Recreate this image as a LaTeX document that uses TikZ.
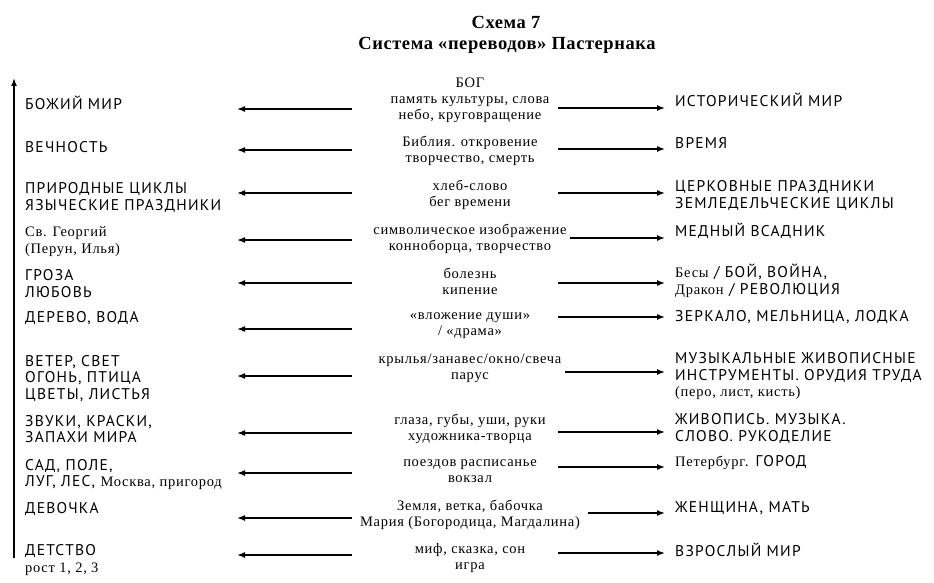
\documentclass[tikz,border=0pt]{standalone}
\usepackage{fontspec}
\setmainfont{Liberation Serif}
\newfontfamily\capsfont[LetterSpace=8]{PT Sans}
\newfontfamily\midfont[LetterSpace=5]{Liberation Serif}
\usetikzlibrary{arrows.meta}
\usetikzlibrary{positioning}

\tikzset{
    arr/.style={line width=1.5pt, -{Latex[length=8pt,width=6pt]}},
    capslabel/.style={anchor=west, align=left, inner sep=0pt, font=\capsfont\fontsize{15.5}{16.5}\selectfont},
    midlabel/.style={align=center, inner sep=0pt, font=\midfont\fontsize{14.5}{16}\selectfont},
    titlelabel/.style={inner sep=0pt, font=\bfseries\addfontfeature{LetterSpace=3}\fontsize{18.5}{20}\selectfont}
}
\newcommand{\rmpart}[1]{{\midfont\fontsize{14.5}{16.5}\selectfont #1}}

\begin{document}
\begin{tikzpicture}[x=1pt, y=-1pt]
    \useasboundingbox (0,0) rectangle (934,583);

    \node(T1)[titlelabel] at (506,22){Схема 7};
    \node(T2)[titlelabel] at (507,45){Система «переводов» Пастернака};

    \coordinate(up0) at (14,558);
    \coordinate(up1) at (14,78);
    \draw[arr] (up0) -- (up1);

    \node(L1)[capslabel] at (25,103){БОЖИЙ МИР};
    \node(L2)[capslabel] at (25,147){ВЕЧНОСТЬ};
    \node(L3)[capslabel] at (25,197.5){ПРИРОДНЫЕ ЦИКЛЫ\\ЯЗЫЧЕСКИЕ ПРАЗДНИКИ};
    \node(L4)[capslabel] at (25,241.5){\rmpart{Св. Георгий}\\\rmpart{(Перун, Илья)}};
    \node(L5)[capslabel] at (25,283.5){ГРОЗА\\ЛЮБОВЬ};
    \node(L6)[capslabel] at (25,318){ДЕРЕВО, ВОДА};
    \node(L7)[capslabel] at (25,378.5){ВЕТЕР, СВЕТ\\ОГОНЬ, ПТИЦА\\ЦВЕТЫ, ЛИСТЬЯ};
    \node(L8)[capslabel] at (25,429){ЗВУКИ, КРАСКИ,\\ЗАПАХИ МИРА};
    \node(L9)[capslabel] at (25,474.5){САД, ПОЛЕ,\\ЛУГ, ЛЕС, \rmpart{Москва, пригород}};
    \node(L10)[capslabel] at (25,509){ДЕВОЧКА};
    \node(L11)[capslabel] at (25,560){ДЕТСТВО\\\rmpart{рост 1, 2, 3}};

    \node(M1)[midlabel] at (470,100){БОГ\\память культуры, слова\\небо, круговращение};
    \node(M2)[midlabel] at (470,151){Библия. откровение\\творчество, смерть};
    \node(M3)[midlabel] at (470,195){хлеб-слово\\бег времени};
    \node(M4)[midlabel] at (470,239){символическое изображение\\конноборца, творчество};
    \node(M5)[midlabel] at (470,281){болезнь\\кипение};
    \node(M6)[midlabel] at (470,326){«вложение души»\\/ «драма»};
    \node(M7)[midlabel] at (470,368.5){крылья/занавес/окно/свеча\\парус};
    \node(M8)[midlabel] at (470,428.5){глаза, губы, уши, руки\\художника-творца};
    \node(M9)[midlabel] at (470,471.5){поездов расписанье\\вокзал};
    \node(M10)[midlabel] at (470,514.5){Земля, ветка, бабочка\\Мария (Богородица, Магдалина)};
    \node(M11)[midlabel] at (470,558.5){миф, сказка, сон\\игра};

    \node(R1)[capslabel] at (675,100){ИСТОРИЧЕСКИЙ МИР};
    \node(R2)[capslabel] at (675,143){ВРЕМЯ};
    \node(R3)[capslabel] at (675,195.5){ЦЕРКОВНЫЕ ПРАЗДНИКИ\\ЗЕМЛЕДЕЛЬЧЕСКИЕ ЦИКЛЫ};
    \node(R4)[capslabel] at (675,231){МЕДНЫЙ ВСАДНИК};
    \node(R5)[capslabel] at (675,281){\rmpart{Бесы} / БОЙ, ВОЙНА,\\\rmpart{Дракон} / РЕВОЛЮЦИЯ};
    \node(R6)[capslabel] at (675,317){ЗЕРКАЛО, МЕЛЬНИЦА, ЛОДКА};
    \node(R7)[capslabel] at (675,376.5){МУЗЫКАЛЬНЫЕ ЖИВОПИСНЫЕ\\ИНСТРУМЕНТЫ. ОРУДИЯ ТРУДА\\\rmpart{(перо, лист, кисть)}};
    \node(R8)[capslabel] at (675,428.5){ЖИВОПИСЬ. МУЗЫКА.\\СЛОВО. РУКОДЕЛИЕ};
    \node(R9)[capslabel] at (675,463){\rmpart{Петербург}. ГОРОД};
    \node(R10)[capslabel] at (675,508){ЖЕНЩИНА, МАТЬ};
    \node(R11)[capslabel] at (675,550){ВЗРОСЛЫЙ МИР};

    % left arrows
    \coordinate(a1) at (352,109);   \coordinate(b1) at (237,109);
    \coordinate(a2) at (352,150);   \coordinate(b2) at (237,150);
    \coordinate(a3) at (352,193);   \coordinate(b3) at (237,193);
    \coordinate(a4) at (352,240);   \coordinate(b4) at (237,240);
    \coordinate(a5) at (352,283);   \coordinate(b5) at (237,283);
    \coordinate(a6) at (352,329);   \coordinate(b6) at (237,329);
    \coordinate(a7) at (352,376);   \coordinate(b7) at (237,376);
    \coordinate(a8) at (352,433);   \coordinate(b8) at (237,433);
    \coordinate(a9) at (352,473);   \coordinate(b9) at (237,473);
    \coordinate(a10) at (352,518);  \coordinate(b10) at (237,518);
    \coordinate(a11) at (352,555);  \coordinate(b11) at (237,555);
    \draw[arr] (a1) -- (b1);
    \draw[arr] (a2) -- (b2);
    \draw[arr] (a3) -- (b3);
    \draw[arr] (a4) -- (b4);
    \draw[arr] (a5) -- (b5);
    \draw[arr] (a6) -- (b6);
    \draw[arr] (a7) -- (b7);
    \draw[arr] (a8) -- (b8);
    \draw[arr] (a9) -- (b9);
    \draw[arr] (a10) -- (b10);
    \draw[arr] (a11) -- (b11);

    % right arrows
    \coordinate(c1) at (558,108);   \coordinate(d1) at (665,108);
    \coordinate(c2) at (558,149);   \coordinate(d2) at (665,149);
    \coordinate(c3) at (558,193);   \coordinate(d3) at (665,193);
    \coordinate(c4) at (570,238);   \coordinate(d4) at (665,238);
    \coordinate(c5) at (558,283);   \coordinate(d5) at (665,283);
    \coordinate(c6) at (558,317);   \coordinate(d6) at (665,317);
    \coordinate(c7) at (565,372);   \coordinate(d7) at (665,372);
    \coordinate(c8) at (558,432);   \coordinate(d8) at (665,432);
    \coordinate(c9) at (558,467);   \coordinate(d9) at (665,467);
    \coordinate(c10) at (588,513);  \coordinate(d10) at (665,513);
    \coordinate(c11) at (558,553);  \coordinate(d11) at (665,553);
    \draw[arr] (c1) -- (d1);
    \draw[arr] (c2) -- (d2);
    \draw[arr] (c3) -- (d3);
    \draw[arr] (c4) -- (d4);
    \draw[arr] (c5) -- (d5);
    \draw[arr] (c6) -- (d6);
    \draw[arr] (c7) -- (d7);
    \draw[arr] (c8) -- (d8);
    \draw[arr] (c9) -- (d9);
    \draw[arr] (c10) -- (d10);
    \draw[arr] (c11) -- (d11);

\end{tikzpicture}
\end{document}
